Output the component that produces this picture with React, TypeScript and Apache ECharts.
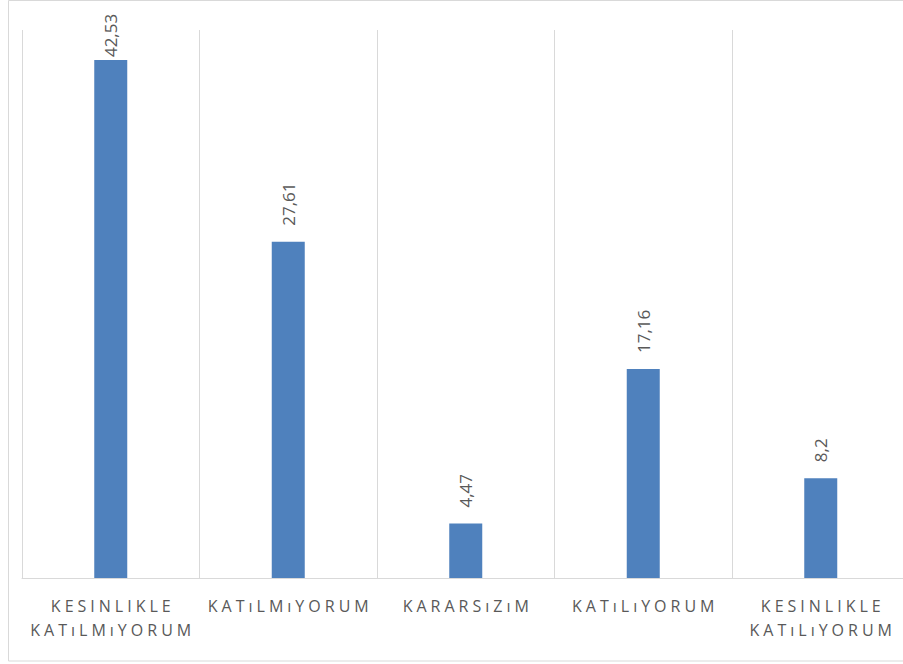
import React, { useEffect, useRef } from "react";
import * as echarts from "echarts";

// Survey answers (Likert scale) and their percentages
const categories = [
  "KESINLIKLE\nKATıLMıYORUM",
  "KATıLMıYORUM",
  "KARARSıZıM",
  "KATıLıYORUM",
  "KESINLIKLE\nKATıLıYORUM",
];
const values = [42.53, 27.61, 4.47, 17.16, 8.2];

const GRID_COLOR = "#d9d9d9";
const TEXT_COLOR = "#595959";
const BAR_COLOR = "#4f81bd";

// Spread letters out to mimic tracked small-caps text
const spaced = (s: string) =>
  s
    .split("\n")
    .map((line) => Array.from(line).join("\u2005"))
    .join("\n");

const fmt = (v: number) => String(v).replace(".", ",");

export default function App() {
  const ref = useRef<HTMLDivElement>(null);

  useEffect(() => {
    if (!ref.current) return;
    const chart = echarts.init(ref.current, undefined, { renderer: "svg" });
    // The tallest bar's label would leave the chart, so it sits tighter to its bar
    const data = values.map((v, i) =>
      i === 0 ? { value: v, label: { distance: 3 } } : v
    );
    chart.setOption({
      animation: false,
      textStyle: { fontFamily: "'Open Sans', sans-serif" },
      graphic: [
        {
          type: "rect",
          shape: { x: 8.5, y: 0.5, width: 920, height: 660.5 },
          style: { fill: "none", stroke: GRID_COLOR, lineWidth: 1 },
          silent: true,
        },
      ],
      grid: { left: 22, top: 30, width: 887.5, height: 548, outerBoundsMode: "none", containLabel: false },
      xAxis: {
        type: "category",
        data: categories,
        axisLine: { show: true, lineStyle: { color: GRID_COLOR, width: 1 } },
        axisTick: { show: false },
        splitLine: { show: true, lineStyle: { color: GRID_COLOR, width: 1 } },
        axisLabel: {
          interval: 0,
          margin: 16,
          color: TEXT_COLOR,
          fontSize: 16,
          lineHeight: 24,
          verticalAlign: "top",
          hideOverlap: false,
          formatter: (v: string) => spaced(v),
        },
      },
      yAxis: {
        type: "value",
        min: 0,
        max: 45,
        show: false,
        splitLine: { show: false },
      },
      series: [
        {
          type: "bar",
          data,
          barWidth: 33,
          itemStyle: { color: BAR_COLOR },
          label: {
            show: true,
            position: "top",
            rotate: 90,
            align: "left",
            verticalAlign: "middle",
            distance: 16,
            color: TEXT_COLOR,
            fontSize: 17,
            formatter: (p: any) => fmt(p.value),
          },
        },
      ],
    });
    return () => chart.dispose();
  }, []);

  return (
    <div
      ref={ref}
      style={{ position: "fixed", left: 0, top: 0, width: 903, height: 664, background: "#fff" }}
    />
  );
}
